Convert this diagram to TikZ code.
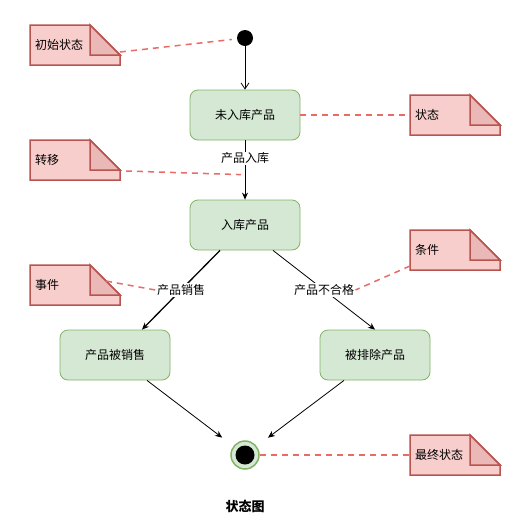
\documentclass[tikz,border=0pt]{standalone}
\usepackage{fontspec}
\setmainfont{Noto Sans CJK SC}
\usetikzlibrary{arrows.meta}

\definecolor{StateFill}{HTML}{D5E8D4}
\definecolor{StateLine}{HTML}{82B366}
\definecolor{NoteFill}{HTML}{F8CECC}
\definecolor{NoteFold}{HTML}{EAB8B6}
\definecolor{NoteLine}{HTML}{B85450}
\definecolor{Memo}{HTML}{EA6B66}

\begin{document}
\begin{tikzpicture}[x=1pt, y=-1pt, font=\fontsize{12}{14}\selectfont,
  state/.style={draw=StateLine, fill=StateFill, line width=0.8pt, rounded corners=8pt, minimum width=110pt, minimum height=50pt},
  edge/.style={-{Stealth[length=7pt, width=6pt]}, line width=0.8pt},
  memo/.style={dash pattern=on 6pt off 5pt, line width=1.5pt, color=Memo},
  edgelabel/.style={fill=white, inner sep=1pt}]

  \useasboundingbox (0,0) rectangle (527,520);

  %%%%%%%%%% Notes %%%%%%%%%%
  \foreach \x/\y/\n/\t in {30/25/ninit/初始状态, 410/95/nstate/状态, 30/140/ntrans/转移,
                           30/265/nevent/事件, 410/230/ncond/条件, 410/435/nfinal/最终状态}
  {
    \draw [line width=1.5pt, draw=NoteLine, fill=NoteFill] (\x,\y) -- ++(60,0) -- ++(30,30) -- ++(0,10) -- ++(-90,0) -- cycle ;
    \draw [line width=1.5pt, draw=NoteLine, fill=NoteFold] (\x+60,\y) -- ++(0,30) -- ++(30,0) -- cycle ;
    \node [anchor=west, inner sep=0pt] (\n) at (\x+5,\y+20) {\t};
  }

  %%%%%%%%%% Pins of the notes %%%%%%%%%%
  \coordinate (ninit-pin) at (120,52);
  \coordinate (nstate-pin) at (410,115);
  \coordinate (ntrans-pin) at (126,171);
  \coordinate (nevent-pin) at (106,281);
  \coordinate (ncond-pin) at (410,266);
  \coordinate (nfinal-pin) at (410,455);

  %%%%%%%%%% States %%%%%%%%%%
  \node [circle, fill=black, inner sep=0pt, minimum size=16pt] (start) at (245,38) {};
  \node [state] (unstored) at (245,115) {未入库产品};
  \node [state] (stored) at (245,225) {入库产品};
  \node [state] (sold) at (115,355) {产品被销售};
  \node [state] (removed) at (375,355) {被排除产品};
  \node [circle, draw=StateLine, fill=StateFill, line width=1.5pt, inner sep=0pt, minimum size=28pt] (final) at (245,455) {};
  \node [circle, fill=black, inner sep=0pt, minimum size=19pt] (finaldot) at (final) {};

  %%%%%%%%%% Transitions %%%%%%%%%%
  \draw [-{Straight Barb[length=6pt, width=8pt]}, line width=0.8pt] (start) -- (unstored) ;
  \draw [edge] (unstored) -- coordinate[pos=0.58] (trans) node[edgelabel, pos=0.3] (lstore) {产品入库} (stored) ;
  \draw [edge, line width=1.3pt] ([xshift=-25pt]stored.south) -- node[edgelabel] (lsale) {产品销售} ([xshift=27pt]sold.north) ;
  \draw [edge] ([xshift=28pt]stored.south) -- node[edgelabel] (lreject) {产品不合格} (removed.north) ;
  \draw [edge, shorten >=14pt] ([xshift=32pt]sold.south) -- (final) ;
  \draw [edge, shorten >=14pt] ([xshift=-31pt]removed.south) -- (final) ;

  %%%%%%%%%% Dashed links to the notes %%%%%%%%%%
  \draw [memo, shorten >=5pt] (ninit-pin) -- (start) ;
  \draw [memo] (unstored) -- (nstate-pin) ;
  \draw [memo, shorten >=4pt] (ntrans-pin) -- (trans) ;
  \draw [memo] (nevent-pin) -- (lsale.west) ;
  \draw [memo] (ncond-pin) -- (lreject.east) ;
  \draw [memo] (final) -- (nfinal-pin) ;

  %%%%%%%%%% Title %%%%%%%%%%
  \node [font=\fontsize{13}{15}\selectfont\bfseries] (title) at (245,506) {状态图};

\end{tikzpicture}
\end{document}
